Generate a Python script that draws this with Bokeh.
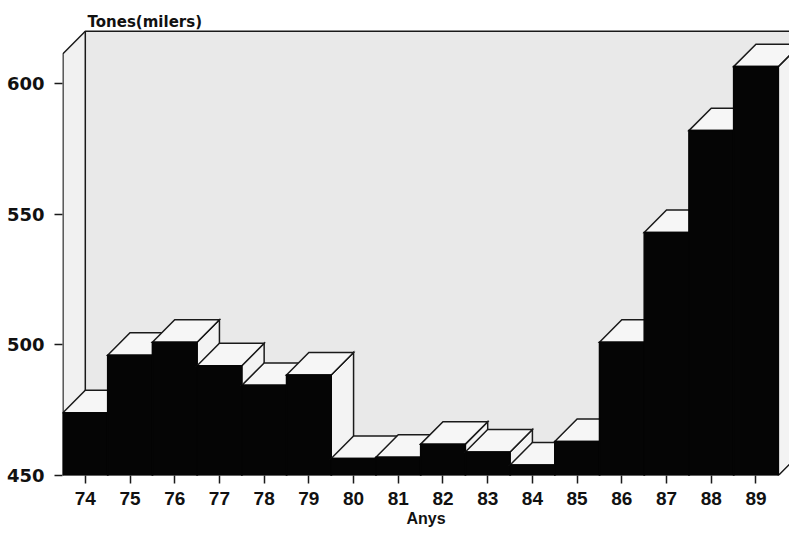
from bokeh.plotting import figure
from bokeh.models import FixedTicker, Label
from bokeh.embed import file_html
from bokeh.resources import INLINE

# ---- data ----
years = ["74", "75", "76", "77", "78", "79", "80", "81",
         "82", "83", "84", "85", "86", "87", "88", "89"]
tonnes = [474, 496, 501, 492, 484.5, 488.5, 456.5, 457,
          462, 459, 454, 463, 501, 543, 582, 606.5]
y_ticks = [450, 500, 550, 600]
y_title = "Tones(milers)"
x_title = "Anys"

# ---- 3D box geometry (depth offsets in data units) ----
BASE = 450
WALL_TOP = 611.4
DX = 0.5
DY = 8.6
X0, X1 = -0.51, 15.75
Y0, Y1 = 450, 631.8

OUT = "#1a1a1a"
WALL = "#e9e9e9"
SIDEWALL = "#f1f1f1"
TOPFACE = "#f6f6f6"
SIDEFACE = "#f3f3f3"
FRONT = "#050505"

p = figure(width=789, height=529, x_range=(X0, X1), y_range=(Y0, Y1),
           output_backend="svg", toolbar_location=None,
           min_border_left=62, min_border_right=0, min_border_top=0,
           min_border_bottom=54)
p.background_fill_color = "white"
p.border_fill_color = "white"
p.outline_line_color = None
p.xgrid.visible = False
p.ygrid.visible = False

# back wall and left side wall
left_edge = -0.5
p.quad(left=[left_edge + DX], right=[X1 + 1], bottom=[BASE + DY], top=[WALL_TOP + DY],
       fill_color=WALL, line_color=None)
p.patch([left_edge, left_edge, left_edge + DX, left_edge + DX],
        [BASE, WALL_TOP, WALL_TOP + DY, BASE + DY],
        fill_color=SIDEWALL, line_color=None)
p.line([left_edge, left_edge, left_edge + DX, X1 + 1],
       [BASE, WALL_TOP, WALL_TOP + DY, WALL_TOP + DY],
       line_color=OUT, line_width=1.5)
p.line([left_edge + DX, left_edge + DX], [BASE + DY, WALL_TOP + DY],
       line_color=OUT, line_width=1.5)

# bars: side, top, front for each, drawn left to right
xs, ys, fills, lines = [], [], [], []
for i, v in enumerate(tonnes):
    l, r = i - 0.5, i + 0.5
    xs.append([r, r, r + DX, r + DX]); ys.append([BASE, v, v + DY, BASE + DY])
    fills.append(SIDEFACE); lines.append(OUT)
    xs.append([l, l + DX, r + DX, r]); ys.append([v, v + DY, v + DY, v])
    fills.append(TOPFACE); lines.append(OUT)
    xs.append([l, l, r, r]); ys.append([BASE, v, v, BASE])
    fills.append(FRONT); lines.append(FRONT)
p.patches(xs, ys, fill_color=fills, line_color=lines, line_width=1.5, line_join="miter")

# axes
xa = p.xaxis[0]
xa.ticker = FixedTicker(ticks=list(range(len(years))))
xa.major_label_overrides = {i: y for i, y in enumerate(years)}
xa.axis_line_color = None
xa.major_tick_in = 0
xa.major_tick_out = 8
xa.major_tick_line_width = 1.5
xa.major_tick_line_color = OUT
xa.minor_tick_line_color = None
xa.major_label_standoff = 8
xa.major_label_text_font = "Liberation Sans"
xa.major_label_text_font_style = "bold"
xa.major_label_text_font_size = "19px"
xa.major_label_text_color = "#111111"
xa.axis_label = x_title
xa.axis_label_standoff = 2
xa.axis_label_text_font = "Liberation Sans"
xa.axis_label_text_font_style = "bold"
xa.axis_label_text_font_size = "16px"
xa.axis_label_text_color = "#111111"

ya = p.yaxis[0]
ya.ticker = FixedTicker(ticks=y_ticks)
ya.axis_line_color = None
ya.major_tick_in = 0
ya.major_tick_out = 8
ya.major_tick_line_width = 1.5
ya.major_tick_line_color = OUT
ya.minor_tick_line_color = None
ya.major_label_standoff = 10
ya.major_label_text_font = "DejaVu Sans"
ya.major_label_text_font_style = "bold"
ya.major_label_text_font_size = "18px"
ya.major_label_text_color = "#111111"

p.add_layout(Label(x=0.05, y=623.7, text=y_title, text_font="DejaVu Sans",
                   text_font_style="bold", text_font_size="15px",
                   text_baseline="alphabetic", text_color="#111111"))

open("out.html", "w").write(file_html(p, INLINE))
